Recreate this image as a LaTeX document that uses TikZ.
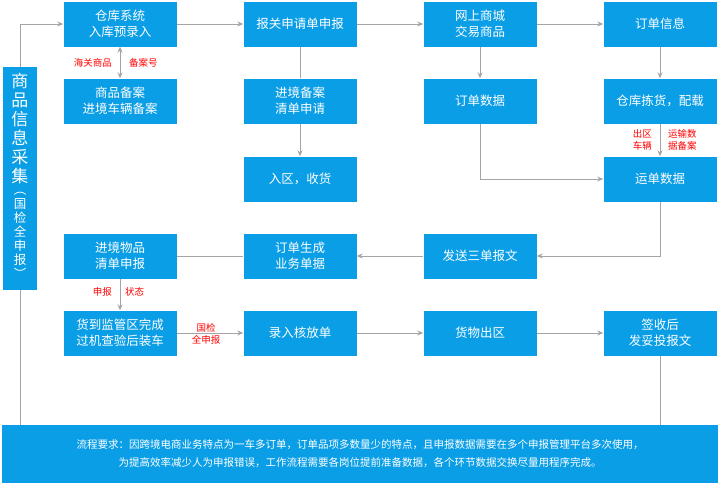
\documentclass[tikz,border=0pt]{standalone}
\usepackage{fontspec}
\setmainfont{Noto Sans CJK SC}
\usetikzlibrary{arrows.meta}
\definecolor{bx}{RGB}{10,158,230}
\definecolor{ln}{RGB}{165,165,165}
\begin{document}
\begin{tikzpicture}[x=1pt,y=-1pt,
 box/.style={fill=bx,text=white,minimum width=113pt,minimum height=45pt,inner sep=0pt,align=center,font=\fontsize{12.5}{16}\selectfont},
 con/.style={draw=ln,line width=0.8pt,-{Stealth[length=6pt,width=5pt]}},
 conn/.style={draw=ln,line width=0.8pt},
 lab/.style={text=red,font=\fontsize{9.5}{12}\selectfont,align=center,inner sep=1pt}]
\useasboundingbox (0,0) rectangle (720,491);
\node[box] (a1) at (120,24) {仓库系统\\入库预录入};
\node[box] (a2) at (300,24) {报关申请单申报};
\node[box] (a3) at (480,24) {网上商城\\交易商品};
\node[box] (a4) at (660,24) {订单信息};
\node[box] (b1) at (120,101) {商品备案\\进境车辆备案};
\node[box] (b2) at (300,101) {进境备案\\清单申请};
\node[box] (b3) at (480,101) {订单数据};
\node[box] (b4) at (660,101) {仓库拣货，配载};
\node[box] (c2) at (300,179) {入区，收货};
\node[box] (c4) at (660,179) {运单数据};
\node[box] (d1) at (120,256) {进境物品\\清单申报};
\node[box] (d2) at (300,256) {订单生成\\业务单据};
\node[box] (d3) at (480,256) {发送三单报文};
\node[box] (e1) at (120,333) {货到监管区完成\\过机查验后装车};
\node[box] (e2) at (300,333) {录入核放单};
\node[box] (e3) at (480,333) {货物出区};
\node[box] (e4) at (660,333) {签收后\\发妥投报文};
\node[fill=bx,text=white,minimum width=34pt,minimum height=223pt,inner sep=0pt] (v) at (20,178.5) {};
\node[text=white,align=center,inner sep=0pt,anchor=north,font=\fontsize{17}{19}\selectfont] (vt1) at (20,73) {商\\品\\信\\息\\采\\集};
\node[text=white,align=center,inner sep=0pt,anchor=north,font=\fontsize{12.5}{14}\selectfont] (vt2) at (20,192) {︵\\国\\检\\全\\申\\报\\︶};
\node[fill=bx,text=white,minimum width=716pt,minimum height=58pt,inner sep=0pt,align=center,font=\fontsize{10.5}{18}\selectfont] (bot) at (360,454) {流程要求：因跨境电商业务特点为一车多订单，订单品项多数量少的特点，且申报数据需要在多个申报管理平台多次使用，\\为提高效率减少人为申报错误，工作流程需要各岗位提前准备数据，各个环节数据交换尽量用程序完成。};
\draw[con] (v.north) |- (a1.west);
\draw[conn] (v.south) -- (v.south |- bot.north);
\draw[conn] (e4.south) -- (e4.south |- bot.north);
\draw[con] (a1) -- (a2);
\draw[con] (a2) -- (a3);
\draw[con] (a3) -- (a4);
\draw[con,{Stealth[length=6pt,width=5pt]}-{Stealth[length=6pt,width=5pt]}] (a1) -- (b1);
\node[lab,anchor=east] (l1) at (113,63) {海关商品};
\node[lab,anchor=west] (l2) at (128,63) {备案号};
\draw[conn] (a2) -- (b2);
\draw[con] (b2) -- (c2);
\draw[con] (a3) -- (b3);
\draw[con] (a4) -- (b4);
\draw[con] (b4) -- (c4);
\node[lab,anchor=east] (l3) at (653,140) {出区\\车辆};
\node[lab,anchor=west] (l4) at (667,140) {运输数\\据备案};
\draw[con] (b3.south) |- (c4.west);
\draw[con] (c4.south) |- (d3.east);
\draw[con] (d3) -- (d2);
\draw[conn] (d2) -- (d1);
\draw[con] (d1) -- (e1);
\node[lab,anchor=east] (l5) at (113,292) {申报};
\node[lab,anchor=west] (l6) at (124,292) {状态};
\draw[con] (e1) -- (e2);
\node[lab] (l7) at (206,334) {国检\\全申报};
\draw[con] (e2) -- (e3);
\draw[con] (e3) -- (e4);
\end{tikzpicture}
\end{document}
